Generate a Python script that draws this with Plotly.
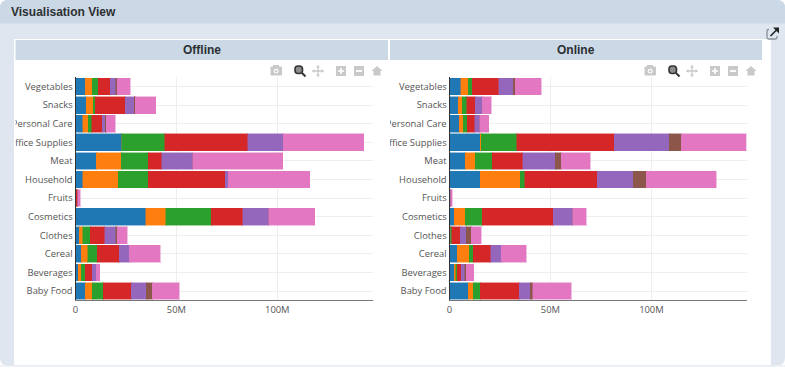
import plotly.graph_objects as go

categories = ["Baby Food", "Beverages", "Cereal", "Clothes", "Cosmetics", "Fruits", "Household",
              "Meat", "Office Supplies", "Personal Care", "Snacks", "Vegetables"]
regions = ["Asia", "Australia and Oceania", "Central America and the Caribbean", "Europe",
           "Middle East and North Africa", "North America", "Sub-Saharan Africa"]
colors = ["#1f77b4", "#ff7f0e", "#2ca02c", "#d62728", "#9467bd", "#8c564b", "#e377c2"]
line_colors = ["rgba(31,119,180,0.45)", "rgba(255,127,14,0.45)", "rgba(44,160,44,0.45)", "rgba(214,39,40,0.45)",
               "rgba(148,103,189,0.45)", "rgba(140,86,75,0.45)", "rgba(227,119,194,0.45)"]

# values in millions, per category (same order as categories), per region
offline_asia = [4.95, 1.32, 2.97, 1.98, 34.82, 0.25, 3.47, 10.23, 22.94, 3.47, 5.28, 4.95]
offline_aus = [3.30, 1.49, 3.14, 1.65, 9.90, 0.10, 17.66, 12.38, 0.10, 2.81, 3.47, 3.47]
offline_cam = [5.45, 1.98, 4.79, 3.63, 22.44, 0.10, 15.02, 13.53, 21.12, 1.65, 0.99, 2.81]
offline_eur = [13.86, 3.47, 10.89, 7.26, 15.84, 0.65, 37.95, 6.60, 41.25, 5.28, 14.85, 6.11]
offline_mea = [7.43, 1.98, 4.79, 5.45, 12.87, 0.10, 1.65, 15.35, 17.66, 1.49, 4.46, 2.64]
offline_nam = [2.97, 0, 0, 0.66, 0, 0, 0, 0, 0, 0.50, 0.66, 0.66]
offline_ssa = [13.53, 1.82, 15.35, 4.95, 22.77, 1.10, 40.43, 44.55, 39.77, 4.46, 10.07, 6.60]

online_asia = [9.24, 2.31, 3.80, 0.50, 2.31, 0.30, 15.18, 7.76, 15.18, 4.79, 4.29, 5.45]
online_aus = [2.48, 0.66, 5.94, 0.10, 5.61, 0, 19.97, 4.95, 0.66, 1.98, 1.98, 3.80]
online_cam = [3.47, 0.83, 1.98, 0.50, 8.42, 0, 2.15, 8.58, 17.49, 1.98, 2.15, 1.98]
online_eur = [19.31, 1.98, 8.75, 4.29, 34.98, 0.10, 35.81, 15.02, 48.35, 3.80, 4.29, 13.04]
online_mea = [5.61, 1.65, 5.12, 2.81, 9.74, 0.10, 17.82, 16.01, 27.06, 2.48, 3.47, 7.26]
online_nam = [1.16, 0.83, 0, 2.48, 0, 0, 6.44, 2.97, 5.94, 0, 0, 0.99]
online_ssa = [18.98, 3.80, 12.38, 5.12, 6.77, 0.80, 34.65, 14.36, 32.34, 4.46, 4.46, 12.87]

offline = [offline_asia, offline_aus, offline_cam, offline_eur, offline_mea, offline_nam, offline_ssa]
online = [online_asia, online_aus, online_cam, online_eur, online_mea, online_nam, online_ssa]

W, H = 785, 368
X_MAX = 147.2e6
TXT = "#555"
FONT = "Open Sans"
fig = go.Figure()
for side, (data, xa, ya) in enumerate([(offline, "x", "y"), (online, "x2", "y2")]):
    for i, name in enumerate(regions):
        fig.add_trace(go.Bar(
            y=categories, x=[v * 1e6 for v in data[i]], name=name, orientation="h",
            xaxis=xa, yaxis=ya, showlegend=False,
            marker=dict(color=colors[i], line=dict(color=line_colors[i], width=1)),
        ))


def px(x): return x / W
def py(y): return 1 - y / H


def path(cmds):
    out = []
    for c in cmds:
        if len(c) == 1:
            out.append(c[0])
        else:
            out.append(f"{c[0]} {px(c[1]):.5f} {py(c[2]):.5f}")
    return " ".join(out)


def rr(x0, y0, x1, y1, tl=0, tr=0, br=0, bl=0):
    d = f"M {px(x0+tl):.5f} {py(y0):.5f} L {px(x1-tr):.5f} {py(y0):.5f} "
    if tr: d += f"Q {px(x1):.5f} {py(y0):.5f} {px(x1):.5f} {py(y0+tr):.5f} "
    d += f"L {px(x1):.5f} {py(y1-br):.5f} "
    if br: d += f"Q {px(x1):.5f} {py(y1):.5f} {px(x1-br):.5f} {py(y1):.5f} "
    d += f"L {px(x0+bl):.5f} {py(y1):.5f} "
    if bl: d += f"Q {px(x0):.5f} {py(y1):.5f} {px(x0):.5f} {py(y1-bl):.5f} "
    d += f"L {px(x0):.5f} {py(y0+tl):.5f} "
    if tl: d += f"Q {px(x0):.5f} {py(y0):.5f} {px(x0+tl):.5f} {py(y0):.5f} "
    return d + "Z"


shapes = []


def fill(d, color, layer="below", line=None, lw=0):
    shapes.append(dict(type="path", xref="paper", yref="paper", path=d, fillcolor=color, layer=layer,
                       line=dict(width=lw, color=line or "rgba(0,0,0,0)")))


def box(x0, y0, x1, y1, color, **kw):
    fill(rr(x0, y0, x1, y1), color, **kw)


# page furniture
box(0, 0, 785, 368, "#ffffff")
fill(rr(0, 0, 785, 365.5, tl=8, tr=8, br=8, bl=8), "#dfe6f0")
fill(rr(0, 0, 785, 23.5, tl=8, tr=8), "#cbd9e6")
box(14, 39, 771, 365, "#ffffff")
box(15.5, 40, 388, 60, "#cbd9e6")
box(390, 40, 762, 60, "#cbd9e6")
box(0, 365.5, 785, 366.5, "#dfe6f0")

# expand icon
fill(rr(767, 29.5, 777, 39, tl=1.5, tr=1.5, br=1.5, bl=1.5), "rgba(0,0,0,0)", layer="above", line="#8a8f96", lw=1.3)
box(769, 28, 780, 36, "#dfe6f0", layer="above")
fill(path([("M", 770.5, 36), ("L", 777, 29.5)]), "rgba(0,0,0,0)", layer="above", line="#222", lw=1.6)
fill(path([("M", 773, 27.5), ("L", 779, 27.5), ("L", 779, 33.5), ("Z",)]), "#222", layer="above")

# modebar icons


def modebar(dx):
    g = "#c9c9c9"
    y = 71
    # camera
    fill(rr(270.5+dx, y-4.5, 282+dx, y+4.5, tl=1, tr=1, br=1, bl=1), g, layer="above")
    box(273+dx, y-6, 279+dx, y-3, g, layer="above")
    fill(rr(273.8+dx, y-2.2, 278.6+dx, y+2.6, tl=2.4, tr=2.4, br=2.4, bl=2.4), "#ffffff", layer="above")
    fill(rr(275+dx, y-1, 277.4+dx, y+1.4, tl=1.2, tr=1.2, br=1.2, bl=1.2), g, layer="above")
    # zoom (active)
    fill(rr(295+dx, y-5, 302.5+dx, y+2.5, tl=3, tr=3, br=3, bl=3), "#8d8d8d", layer="above", line="#333", lw=1.6)
    fill(path([("M", 302+dx, y+2), ("L", 305.5+dx, y+5.5)]), "rgba(0,0,0,0)", layer="above", line="#333", lw=2)
    # pan
    fill(path([("M", 312.5+dx, y), ("L", 323.5+dx, y), ("M", 318+dx, y-5.5), ("L", 318+dx, y+5.5)]),
         "rgba(0,0,0,0)", layer="above", line=g, lw=1.3)
    for a, b, c, d, e, f in [(312, y, 314.5, y-2, 314.5, y+2), (324, y, 321.5, y-2, 321.5, y+2),
                             (318, y-6, 316, y-3.5, 320, y-3.5), (318, y+6, 316, y+3.5, 320, y+3.5)]:
        fill(path([("M", a+dx, b), ("L", c+dx, d), ("L", e+dx, f), ("Z",)]), g, layer="above")
    # plus/minus
    box(336+dx, y-5, 346+dx, y+5, g, layer="above")
    box(340.2+dx, y-3, 341.8+dx, y+3, "#fff", layer="above")
    box(338+dx, y-0.8, 344+dx, y+0.8, "#fff", layer="above")
    box(354+dx, y-5, 364+dx, y+5, g, layer="above")
    box(356+dx, y-0.9, 362+dx, y+0.9, "#fff", layer="above")
    # home
    fill(path([("M", 371.5+dx, y), ("L", 377+dx, y-5), ("L", 382.5+dx, y), ("L", 380.5+dx, y), ("L", 380.5+dx, y+4.5),
               ("L", 373.5+dx, y+4.5), ("L", 373.5+dx, y), ("Z",)]), g, layer="above")


modebar(0)
modebar(374)

annotations = [
    dict(text="<b>Visualisation View</b>", x=px(9), y=py(12.5), xref="paper", yref="paper", xanchor="left",
         yanchor="middle", showarrow=False, font=dict(family="Liberation Sans", size=12, color="#2b2f33")),
    dict(text="<b>Offline</b>", x=px(201.5), y=py(50), xref="paper", yref="paper", xanchor="center",
         yanchor="middle", showarrow=False, font=dict(family="Liberation Sans", size=12, color="#2b2f33")),
    dict(text="<b>Online</b>", x=px(575.5), y=py(50), xref="paper", yref="paper", xanchor="center",
         yanchor="middle", showarrow=False, font=dict(family="Liberation Sans", size=12, color="#2b2f33")),
]

xa = dict(range=[0, X_MAX], dtick=50e6, tickformat="~s", showgrid=True, gridcolor="#eeeeee", gridwidth=1,
          showline=True, linecolor="#777777", linewidth=1.3, ticks="", zeroline=False,
          tickfont=dict(family=FONT, size=9.4, color=TXT), anchor="y")
ya = dict(type="category", categoryorder="array", categoryarray=categories, showgrid=True, gridcolor="#eeeeee",
          gridwidth=1, showline=True, linecolor="#333333", linewidth=1, ticks="",
          tickfont=dict(family=FONT, size=9.4, color=TXT), automargin=False)
y_dom = [py(300.3), py(77.3)]
fig.update_layout(
    width=W, height=H, margin=dict(l=0, r=0, t=0, b=0, autoexpand=False), autosize=False,
    paper_bgcolor="rgba(0,0,0,0)", plot_bgcolor="rgba(0,0,0,0)",
    barmode="stack", bargap=0.1, showlegend=False,
    xaxis=dict(xa, domain=[px(75.5), px(372.5)], anchor="y"),
    yaxis=dict(ya, domain=y_dom, anchor="x"),
    xaxis2=dict(xa, domain=[px(449.5), px(746.7)], anchor="y2"),
    yaxis2=dict(ya, domain=y_dom, anchor="x2"),
    shapes=shapes, annotations=annotations,
)

post = """
document.body.style.margin = '0';
document.body.style.overflow = 'hidden';
document.querySelectorAll('.ytick text, .y2tick text').forEach(function (t) {
  var r = t.getBoundingClientRect();
  var lim = r.left < 200 ? 15.5 : 390;
  var cut = lim - r.left;
  if (cut > 0) { t.style.clipPath = 'inset(-5px -5px -5px ' + cut + 'px)'; }
});
"""
fig.write_html("out.html", config=dict(displayModeBar=False, responsive=False), post_script=post)
